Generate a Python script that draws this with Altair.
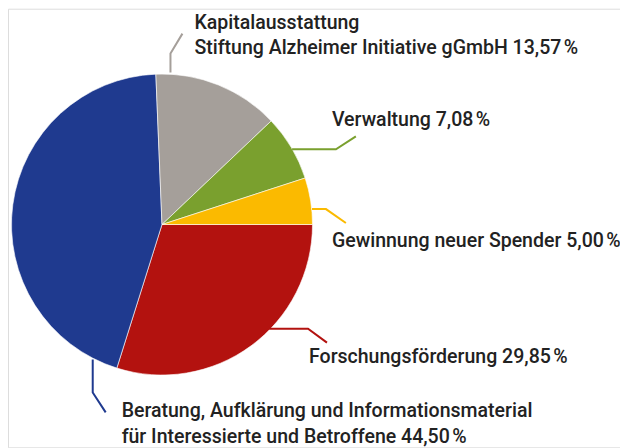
import altair as alt
import pandas as pd
import math

# ---- data ----
categories = [
    "Forschungsförderung",
    "Beratung, Aufklärung und Informationsmaterial für Interessierte und Betroffene",
    "Kapitalausstattung Stiftung Alzheimer Initiative gGmbH",
    "Verwaltung",
    "Gewinnung neuer Spender",
]
shares = [29.85, 44.50, 13.57, 7.08, 5.00]
colors = ["#B3120F", "#1F3A8F", "#A59F9A", "#7AA02E", "#FBBA00"]

# label texts (as printed)
label_lines = [
    ["Forschungsförderung 29,85\u202f%"],
    ["Beratung, Aufklärung und Informationsmaterial", "für Interessierte und Betroffene 44,50\u202f%"],
    ["Kapitalausstattung", "Stiftung Alzheimer Initiative gGmbH 13,57\u202f%"],
    ["Verwaltung 7,08\u202f%"],
    ["Gewinnung neuer Spender 5,00\u202f%"],
]

# ---- layout (page pixel positions of labels and leader lines) ----
label_x = [310, 122, 195, 333, 333]
label_y = [363, 418, 28, 126, 247]
leader_x = [[270, 309, 328], [93, 93, 106], [171, 171, 183], [293, 337, 357], [313, 327, 347]]
leader_y = [[329, 329, 343], [360, 393, 413], [72, 53, 33], [149, 149, 136], [209, 209, 223]]

W, H = 614, 440
M = 8
cx, cy, R = 162.5 - M, 224.5 - M, 151

pie_df = pd.DataFrame({
    "cat": categories,
    "share": shares,
    "order": list(range(len(categories))),
})

color_scale = alt.Scale(domain=categories, range=colors)

pie = alt.Chart(pie_df).mark_arc(
    radius=R, stroke="white", strokeWidth=0.6
).encode(
    theta=alt.Theta("share:Q", stack=True,
                    scale=alt.Scale(range=[math.pi / 2, math.pi / 2 + 2 * math.pi])),
    order=alt.Order("order:Q"),
    color=alt.Color("cat:N", scale=color_scale, legend=None),
    x=alt.value(cx),
    y=alt.value(cy),
)

rows = []
for i, c in enumerate(categories):
    for j, (px, py) in enumerate(zip(leader_x[i], leader_y[i])):
        rows.append({"cat": c, "seg": j, "px": px, "py": py})
line_df = pd.DataFrame(rows)

xs = alt.Scale(domain=[M, M + W], range=[0, W])
ys = alt.Scale(domain=[M + H, M], range=[H, 0])

leaders = alt.Chart(line_df).mark_line(strokeWidth=2, strokeJoin="miter").encode(
    x=alt.X("px:Q", scale=xs, axis=None),
    y=alt.Y("py:Q", scale=ys, axis=None),
    color=alt.Color("cat:N", scale=color_scale, legend=None),
    detail="cat:N",
    order="seg:Q",
)

text_df = pd.DataFrame({
    "cat": categories,
    "tx": label_x,
    "ty": label_y,
    "txt": ["\n".join(l) for l in label_lines],
})

texts = alt.Chart(text_df).mark_text(
    align="left", baseline="alphabetic", lineBreak="\n", lineHeight=25.5,
    font="Roboto", fontSize=19.6, fontWeight=500, color="#222222"
).encode(
    x=alt.X("tx:Q", scale=xs, axis=None),
    y=alt.Y("ty:Q", scale=ys, axis=None),
    text="txt:N",
)

chart = alt.layer(pie, leaders, texts).properties(
    width=W, height=H, padding=0, autosize="none"
).configure_view(stroke=None).configure(background="white")

chart.save("out.html", embed_options={"renderer": "svg", "actions": False})
